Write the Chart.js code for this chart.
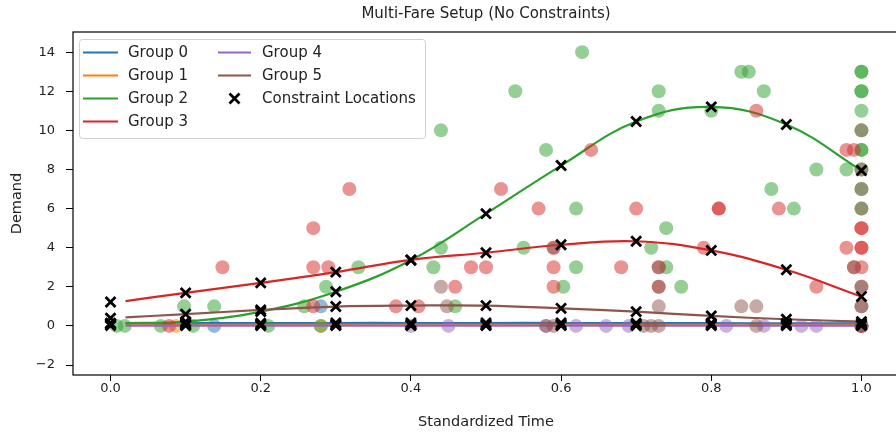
<!DOCTYPE html>
<html>
<head>
<meta charset="utf-8">
<script src="https://cdn.jsdelivr.net/npm/chart.js@4.4.0/dist/chart.umd.min.js"></script>
<style>
  html, body { margin: 0; padding: 0; background: #fff; overflow: hidden; }
  #wrap { width: 900px; height: 434px; }
</style>
</head>
<body>
<div id="wrap"><canvas id="demandChart" width="900" height="434"></canvas></div>
<script>
const groupNames = ['Group 0', 'Group 1', 'Group 2', 'Group 3', 'Group 4', 'Group 5'];
const groupColors = ['#1f77b4', '#ff7f0e', '#2ca02c', '#d62728', '#9467bd', '#8c564b'];
const groupFills = ['rgba(31,119,180,0.5)', 'rgba(255,127,14,0.5)', 'rgba(44,160,44,0.5)',
                    'rgba(214,39,40,0.5)', 'rgba(148,103,189,0.5)', 'rgba(140,86,75,0.5)'];

// fitted demand per group at the constraint times
const constraintTimes = [0, 0.1, 0.2, 0.3, 0.4, 0.5, 0.6, 0.7, 0.8, 0.9, 1.0];
const fit0 = [0.14, 0.14, 0.14, 0.15, 0.15, 0.15, 0.15, 0.14, 0.14, 0.13, 0.13];
const fit1 = [0.06, 0.06, 0.06, 0.06, 0.06, 0.06, 0.06, 0.06, 0.06, 0.06, 0.06];
const fit2 = [0.12, 0.22, 0.73, 1.75, 3.36, 5.74, 8.2, 10.45, 11.2, 10.3, 7.95];
const fit3 = [1.22, 1.69, 2.2, 2.75, 3.38, 3.74, 4.15, 4.33, 3.86, 2.87, 1.5];
const fit4 = [0.02, 0.02, 0.02, 0.02, 0.02, 0.02, 0.02, 0.02, 0.02, 0.02, 0.02];
const fit5 = [0.4, 0.6, 0.82, 0.99, 1.04, 1.04, 0.9, 0.73, 0.51, 0.34, 0.22];
// the curves begin at the first observed time
const curveStartTime = 0.02;
const curveStart = [0.14, 0.06, 0.15, 1.27, 0.02, 0.44];

// observed (time, demand) points per group
const obsTime0 = [0.138, 0.28, 1.0];
const obsDemand0 = [0, 1, 0];
const obsTime1 = [0.087, 0.28, 1.0];
const obsDemand1 = [0, 0, 0];
const obsTime2 = [0.008, 0.019, 0.067, 0.098, 0.11, 0.138, 0.21, 0.258, 0.28, 0.287,
                  0.33, 0.43, 0.44, 0.44, 0.459, 0.539, 0.55, 0.58, 0.603, 0.62,
                  0.62, 0.628, 0.72, 0.73, 0.73, 0.74, 0.74, 0.76, 0.8, 0.84,
                  0.85, 0.87, 0.88, 0.91, 0.94, 0.98,
                  1, 1, 1, 1, 1, 1, 1, 1, 1, 1, 1];
const obsDemand2 = [0, 0, 0, 1, 0, 1, 0, 1, 0, 2,
                    3, 3, 4, 10, 1, 12, 4, 9, 2, 6,
                    3, 14, 4, 12, 11, 5, 3, 2, 11, 13,
                    13, 12, 7, 6, 8, 8,
                    13, 13, 12, 12, 11, 10, 9, 9, 8, 7, 6];
const obsTime3 = [0.078, 0.149, 0.27, 0.27, 0.27, 0.29, 0.318, 0.38, 0.41, 0.459,
                  0.48, 0.5, 0.52, 0.57, 0.59, 0.59, 0.59, 0.64, 0.68, 0.7,
                  0.73, 0.73, 0.79, 0.81, 0.81, 0.86, 0.89, 0.94, 0.98, 0.98,
                  0.99, 0.99, 1, 1, 1, 1, 1, 1];
const obsDemand3 = [0, 3, 5, 3, 1, 3, 7, 1, 1, 2,
                    3, 3, 7, 6, 4, 3, 2, 9, 3, 6,
                    3, 2, 4, 6, 6, 11, 6, 2, 9, 4,
                    9, 3, 5, 5, 4, 4, 3, 0];
const obsTime4 = [0.4, 0.45, 0.58, 0.62, 0.66, 0.69, 0.82, 0.87, 0.92, 0.94, 1.0];
const obsDemand4 = [0, 0, 0, 0, 0, 0, 0, 0, 0, 0, 0];
const obsTime5 = [0.44, 0.448, 0.58, 0.59, 0.59, 0.71, 0.72, 0.73, 0.73, 0.73,
                  0.73, 0.84, 0.86, 0.86, 0.99, 1, 1, 1, 1, 1, 1, 1, 1, 1];
const obsDemand5 = [2, 1, 0, 0, 4, 0, 0, 0, 3, 2,
                    1, 1, 1, 0, 3, 10, 8, 7, 6, 2, 2, 1, 1, 0];

const xTicks = [0, 0.2, 0.4, 0.6, 0.8, 1.0];
const yTicks = [-2, 0, 2, 4, 6, 8, 10, 12, 14];

const fits = [fit0, fit1, fit2, fit3, fit4, fit5];
const obsTimes = [obsTime0, obsTime1, obsTime2, obsTime3, obsTime4, obsTime5];
const obsDemands = [obsDemand0, obsDemand1, obsDemand2, obsDemand3, obsDemand4, obsDemand5];

const FONT = 'DejaVu Sans';
const datasets = [];

// constraint markers sit on every curve at every constraint time
const constraintPoints = [];
fits.forEach(fit => constraintTimes.forEach((t, i) => constraintPoints.push({ x: t, y: fit[i] })));
datasets.push({
  type: 'scatter',
  label: 'Constraint Locations',
  data: constraintPoints,
  pointStyle: 'crossRot',
  pointRadius: 7,
  borderWidth: 2.8,
  borderColor: '#000',
  backgroundColor: '#000',
  order: 0
});

groupNames.forEach((name, g) => {
  const curve = [{ x: curveStartTime, y: curveStart[g] }];
  constraintTimes.forEach((t, i) => { if (i > 0) curve.push({ x: t, y: fits[g][i] }); });
  datasets.push({
    type: 'line',
    label: name,
    data: curve,
    borderColor: groupColors[g],
    borderWidth: 2.2,
    pointRadius: 0,
    tension: 0.4,
    fill: false,
    order: 2 * (5 - g) + 1
  });
  datasets.push({
    type: 'scatter',
    label: name + ' obs',
    data: obsTimes[g].map((t, i) => ({ x: t, y: obsDemands[g][i] })),
    pointRadius: 7,
    borderWidth: 0,
    backgroundColor: groupFills[g],
    order: 2 * (5 - g) + 2
  });
});

// box around the plot area plus the title
const framePlugin = {
  id: 'frame',
  afterDraw(chart) {
    const { ctx, chartArea: a } = chart;
    ctx.save();
    ctx.strokeStyle = '#000';
    ctx.lineWidth = 1.2;
    ctx.strokeRect(a.left, a.top, a.right - a.left, a.bottom - a.top);
    ctx.fillStyle = '#222';
    ctx.font = '15px "' + FONT + '"';
    ctx.textAlign = 'center';
    ctx.textBaseline = 'middle';
    ctx.fillText('Multi-Fare Setup (No Constraints)', (a.left + a.right) / 2, 14);
    ctx.restore();
  }
};

// two-column legend in the upper left corner
const legendPlugin = {
  id: 'cornerLegend',
  afterDraw(chart) {
    const ctx = chart.ctx;
    const box = { x: 79.5, y: 39.5, w: 346, h: 99, r: 3 };
    ctx.save();
    ctx.beginPath();
    ctx.roundRect(box.x, box.y, box.w, box.h, box.r);
    ctx.fillStyle = 'rgba(255,255,255,0.8)';
    ctx.fill();
    ctx.strokeStyle = '#d0d0d0';
    ctx.lineWidth = 1;
    ctx.stroke();

    const rows = [52.5, 75.5, 98.5, 121.5];
    const cols = [{ x0: 83, x1: 118, tx: 128 }, { x0: 218, x1: 251, tx: 262 }];
    const entries = groupNames.map((name, g) => ({ name, color: groupColors[g] }));
    entries.push({ name: 'Constraint Locations', marker: true });
    ctx.font = '15px "' + FONT + '"';
    ctx.textBaseline = 'middle';
    ctx.textAlign = 'left';
    entries.forEach((e, i) => {
      const c = cols[i < 4 ? 0 : 1];
      const y = rows[i < 4 ? i : i - 4];
      if (e.marker) {
        const cx = (c.x0 + c.x1) / 2, s = 5;
        ctx.strokeStyle = '#000';
        ctx.lineWidth = 2.8;
        ctx.beginPath();
        ctx.moveTo(cx - s, y - s); ctx.lineTo(cx + s, y + s);
        ctx.moveTo(cx - s, y + s); ctx.lineTo(cx + s, y - s);
        ctx.stroke();
      } else {
        ctx.strokeStyle = e.color;
        ctx.lineWidth = 2.2;
        ctx.beginPath();
        ctx.moveTo(c.x0, y); ctx.lineTo(c.x1, y);
        ctx.stroke();
      }
      ctx.fillStyle = '#222';
      ctx.fillText(e.name, c.tx, y + 1);
    });
    ctx.restore();
  }
};

new Chart(document.getElementById('demandChart'), {
  type: 'scatter',
  data: { datasets },
  options: {
    responsive: false,
    animation: false,
    events: [],
    layout: { autoPadding: false, padding: { top: 32, right: 1, left: 0, bottom: 0 } },
    plugins: {
      legend: { display: false },
      tooltip: { enabled: false },
      title: { display: false }
    },
    scales: {
      x: {
        type: 'linear',
        min: -0.05,
        max: 1.05,
        afterBuildTicks: scale => { scale.ticks = xTicks.map(v => ({ value: v })); },
        afterFit: scale => {
          scale.height = 59;
          // end labels sit well inside the axis, no side padding needed
          scale.paddingLeft = 0;
          scale.paddingRight = 0;
        },
        border: { display: false },
        grid: { drawOnChartArea: false, drawTicks: true, tickLength: 6, color: '#000' },
        ticks: {
          padding: 0,
          color: '#222',
          font: { family: FONT, size: 13 },
          callback: v => Number(v).toFixed(1)
        },
        title: {
          display: true,
          text: 'Standardized Time',
          color: '#222',
          font: { family: FONT, size: 14.5 },
          padding: { top: 4, bottom: 3 }
        }
      },
      y: {
        type: 'linear',
        min: -2.51,
        max: 15.03,
        afterBuildTicks: scale => { scale.ticks = yTicks.map(v => ({ value: v })); },
        afterFit: scale => { scale.width = 73; },
        border: { display: false },
        grid: { drawOnChartArea: false, drawTicks: true, tickLength: 7, color: '#000' },
        ticks: {
          padding: 11,
          color: '#222',
          font: { family: FONT, size: 13 },
          callback: v => (v < 0 ? '\u2212' + Math.abs(v) : String(v))
        },
        title: {
          display: true,
          text: 'Demand',
          color: '#222',
          font: { family: FONT, size: 14.5 },
          padding: { top: 9, bottom: 4 }
        }
      }
    }
  },
  plugins: [framePlugin, legendPlugin]
});
</script>
</body>
</html>
